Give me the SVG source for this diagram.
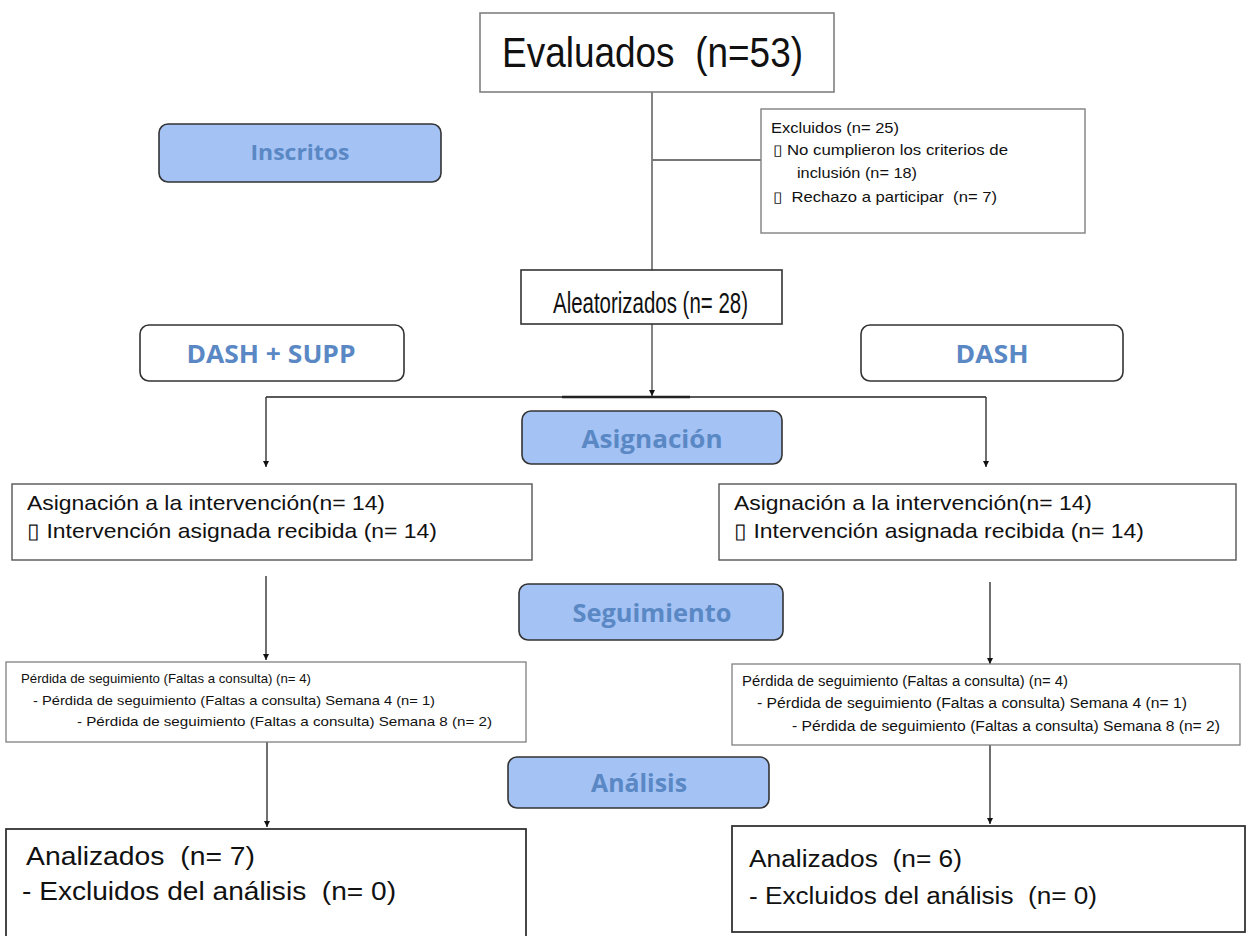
<svg xmlns="http://www.w3.org/2000/svg" width="1248" height="936" viewBox="0 0 1248 936">
<style>
  .box{fill:#fff;stroke:#555;stroke-width:1.4}
  .gbox{fill:#fff;stroke:#808080;stroke-width:1.6}
  .phase{fill:#a4c2f4;stroke:#333;stroke-width:1.6}
  .group{fill:#fff;stroke:#333;stroke-width:1.6}
  .t{font-family:"Liberation Sans",Arial,sans-serif;fill:#111}
  .p{font-family:"Open Sans","Noto Sans",sans-serif;font-weight:700;fill:#5a88c4;text-anchor:middle}
  .ln{fill:none;stroke:#222;stroke-width:1.3}
  .lg{fill:none;stroke:#777;stroke-width:1.8}
</style>
<defs>
  <marker id="arr" viewBox="0 0 10 10" refX="10" refY="5" markerWidth="6" markerHeight="7" orient="auto" markerUnits="userSpaceOnUse">
    <path d="M0,0 L10,5 L0,10 z" fill="#111"/>
  </marker>
</defs>

<g id="connectors">
  <path class="lg" d="M652,92 V270"/>
  <path class="lg" d="M652,160 H761"/>
  <path class="lg" d="M652,324 V396" marker-end="url(#arr)"/>
  <path class="ln" d="M266,397 H986"/>
  <path d="M562,397 H690" stroke="#222" stroke-width="2.6"/>
  <path class="ln" d="M266,397 V467" marker-end="url(#arr)"/>
  <path class="ln" d="M986,397 V467" marker-end="url(#arr)"/>
  <path class="ln" d="M266,576 V660" marker-end="url(#arr)"/>
  <path class="ln" d="M990,582 V664" marker-end="url(#arr)"/>
  <path class="ln" d="M267,742 V827" marker-end="url(#arr)"/>
  <path class="ln" d="M990,745 V824" marker-end="url(#arr)"/>
</g>

<g id="evaluados">
  <rect class="gbox" x="480" y="13" width="354" height="79"/>
  <text class="t" x="502" y="67" font-size="42" textLength="301" lengthAdjust="spacingAndGlyphs" xml:space="preserve">Evaluados  (n=53)</text>
</g>

<g id="excluidos">
  <rect class="gbox" x="761" y="109" width="324" height="124" style="stroke-width:1.4"/>
  <text class="t" x="771" y="133" font-size="14.5" textLength="128" lengthAdjust="spacingAndGlyphs">Excluidos (n= 25)</text>
  <text class="t" x="773" y="155" font-size="14.5" textLength="235" lengthAdjust="spacingAndGlyphs">▯  No cumplieron los criterios de</text>
  <text class="t" x="797" y="178" font-size="14.5" textLength="120" lengthAdjust="spacingAndGlyphs">inclusión (n= 18)</text>
  <text class="t" x="773" y="202" font-size="14.5" textLength="224" lengthAdjust="spacingAndGlyphs" xml:space="preserve">▯  Rechazo a participar  (n= 7)</text>
</g>

<g id="inscritos">
  <rect class="phase" x="159" y="124" width="282" height="58" rx="9"/>
  <text class="p" x="300" y="160" font-size="22" textLength="99" lengthAdjust="spacingAndGlyphs">Inscritos</text>
</g>

<g id="aleatorizados">
  <rect class="box" x="521" y="270" width="261" height="54" style="stroke:#333;stroke-width:1.6"/>
  <text class="t" x="553" y="313" font-size="29" textLength="195" lengthAdjust="spacingAndGlyphs">Aleatorizados (n= 28)</text>
</g>

<g id="dash-supp">
  <rect class="group" x="140" y="325" width="264" height="56" rx="9"/>
  <text class="p" x="271" y="363" font-size="25" textLength="169" lengthAdjust="spacingAndGlyphs">DASH + SUPP</text>
</g>

<g id="dash">
  <rect class="group" x="861" y="325" width="262" height="56" rx="9"/>
  <text class="p" x="992" y="363" font-size="25" textLength="73" lengthAdjust="spacingAndGlyphs">DASH</text>
</g>

<g id="asignacion">
  <rect class="phase" x="522" y="411" width="260" height="53" rx="9"/>
  <text class="p" x="652" y="448" font-size="25" textLength="141" lengthAdjust="spacingAndGlyphs">Asignación</text>
</g>

<g id="asig-left">
  <rect class="box" x="12" y="484" width="520" height="76"/>
  <text class="t" x="27" y="510" font-size="21" textLength="358" lengthAdjust="spacingAndGlyphs">Asignación a la intervención(n= 14)</text>
  <text class="t" x="27" y="538" font-size="21" textLength="410" lengthAdjust="spacingAndGlyphs">▯ Intervención asignada recibida (n= 14)</text>
</g>

<g id="asig-right">
  <rect class="box" x="719" y="484" width="517" height="76"/>
  <text class="t" x="734" y="510" font-size="21" textLength="358" lengthAdjust="spacingAndGlyphs">Asignación a la intervención(n= 14)</text>
  <text class="t" x="734" y="538" font-size="21" textLength="410" lengthAdjust="spacingAndGlyphs">▯ Intervención asignada recibida (n= 14)</text>
</g>

<g id="seguimiento">
  <rect class="phase" x="519" y="584" width="264" height="56" rx="9"/>
  <text class="p" x="652" y="622" font-size="25" textLength="159" lengthAdjust="spacingAndGlyphs">Seguimiento</text>
</g>

<g id="perdida-left">
  <rect class="gbox" x="6" y="662" width="520" height="80" style="stroke-width:1.3"/>
  <text class="t" x="21" y="683" font-size="13" textLength="290" lengthAdjust="spacingAndGlyphs">Pérdida de seguimiento (Faltas a consulta) (n= 4)</text>
  <text class="t" x="33" y="705" font-size="13" textLength="402" lengthAdjust="spacingAndGlyphs">- Pérdida de seguimiento (Faltas a consulta) Semana 4 (n= 1)</text>
  <text class="t" x="77" y="726" font-size="13" textLength="415" lengthAdjust="spacingAndGlyphs">- Pérdida de seguimiento (Faltas a consulta) Semana 8 (n= 2)</text>
</g>

<g id="perdida-right">
  <rect class="gbox" x="732" y="664" width="508" height="81" style="stroke-width:1.3"/>
  <text class="t" x="742" y="686" font-size="14" textLength="326" lengthAdjust="spacingAndGlyphs">Pérdida de seguimiento (Faltas a consulta) (n= 4)</text>
  <text class="t" x="757" y="708" font-size="14" textLength="430" lengthAdjust="spacingAndGlyphs">- Pérdida de seguimiento (Faltas a consulta) Semana 4 (n= 1)</text>
  <text class="t" x="792" y="731" font-size="14" textLength="428" lengthAdjust="spacingAndGlyphs">- Pérdida de seguimiento (Faltas a consulta) Semana 8 (n= 2)</text>
</g>

<g id="analisis">
  <rect class="phase" x="508" y="757" width="261" height="51" rx="9"/>
  <text class="p" x="639" y="792" font-size="25" textLength="96" lengthAdjust="spacingAndGlyphs">Análisis</text>
</g>

<g id="analizados-left">
  <rect class="box" x="6" y="829" width="520" height="120" style="stroke:#333;stroke-width:1.8"/>
  <text class="t" x="26" y="865" font-size="25" textLength="229" lengthAdjust="spacingAndGlyphs" xml:space="preserve">Analizados  (n= 7)</text>
  <text class="t" x="22" y="900" font-size="25" textLength="374" lengthAdjust="spacingAndGlyphs" xml:space="preserve">- Excluidos del análisis  (n= 0)</text>
</g>

<g id="analizados-right">
  <rect class="box" x="732" y="826" width="513" height="106" style="stroke:#333;stroke-width:1.8"/>
  <text class="t" x="749" y="867" font-size="23" textLength="213" lengthAdjust="spacingAndGlyphs" xml:space="preserve">Analizados  (n= 6)</text>
  <text class="t" x="749" y="904" font-size="23" textLength="348" lengthAdjust="spacingAndGlyphs" xml:space="preserve">- Excluidos del análisis  (n= 0)</text>
</g>
</svg>
